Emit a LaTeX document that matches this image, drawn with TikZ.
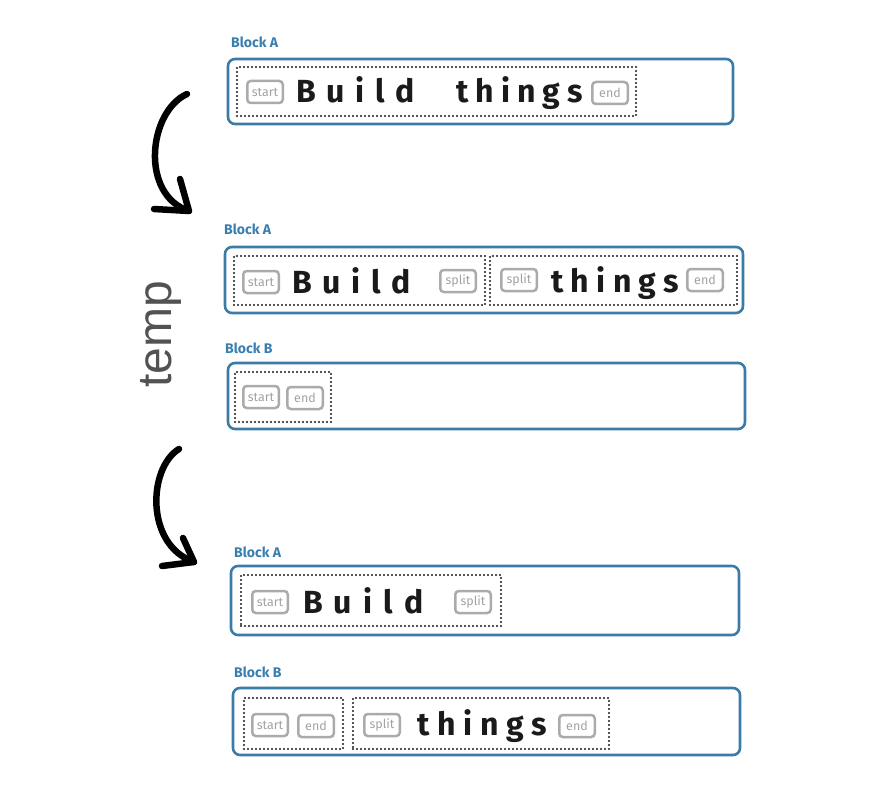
\documentclass[tikz,border=0pt]{standalone}
\usepackage{fontspec}
\setmainfont{Fira Sans}
\newfontfamily\tempfont{Liberation Sans}
\usetikzlibrary{fit}
\definecolor{blockblue}{HTML}{3C7BA6}
\definecolor{labelblue}{HTML}{3A7EAF}
\definecolor{taggray}{HTML}{ABABAB}
\definecolor{tagtext}{HTML}{A2A2A2}
\definecolor{inkblack}{HTML}{1A1A1A}
\newcommand{\spreadword}[2]{\makebox[#1][s]{#2}}
\tikzset{
  outerbox/.style={draw=blockblue, line width=2.6pt, rounded corners=7pt, inner sep=0pt},
  dotbox/.style={draw=inkblack, line width=2.2pt, line cap=round, dash pattern=on 0pt off 4pt, inner sep=0pt},
  tagbox/.style={draw=taggray, line width=2.5pt, rounded corners=3.5pt, minimum width=35.5pt, minimum height=22pt, inner sep=0pt, text=tagtext, font=\fontsize{12.5}{12.5}\selectfont},
  blocklabel/.style={anchor=base west, inner sep=0pt, text=labelblue, font=\fontsize{14}{14}\selectfont\bfseries},
  bigword/.style={anchor=base west, inner sep=0pt, text=inkblack, font=\fontsize{32}{32}\selectfont\bfseries},
  curvearrow/.style={draw=black, line width=6.5pt, line cap=round, line join=round},
}
\begin{document}
\begin{tikzpicture}[x=1pt,y=-1pt]
\useasboundingbox (0,0) rectangle (880,786);

% ---------- Stage 1 ----------
\node[blocklabel] (l1) at (231,48) {Block A};
\node[outerbox, fit={(228,59) (733,124)}] (o1) {};
\node[dotbox, fit={(237,67) (636,116)}] (d1) {};
\node[tagbox] (s1) at (265,92) {start};
\node[bigword] (w1a) at (296,103) {\spreadword{119pt}{B\hfil u\hfil i\hfil l\hfil d}};
\node[bigword] (w1b) at (456,103) {\spreadword{127pt}{t\hfil h\hfil i\hfil n\hfil g\hfil s}};
\node[tagbox] (e1) at (610,93) {end};

% ---------- Stage 2 ----------
\node[blocklabel] (l2a) at (224,235) {Block A};
\node[outerbox, fit={(225,247) (743,313)}] (o2a) {};
\node[dotbox, fit={(234,256) (485,305)}] (d2a) {};
\node[dotbox, fit={(490,256) (737,305)}] (d2b) {};
\node[tagbox] (s2) at (261,282) {start};
\node[bigword] (w2a) at (292,293) {\spreadword{119pt}{B\hfil u\hfil i\hfil l\hfil d}};
\node[tagbox] (p2a) at (458,281) {split};
\node[tagbox] (p2b) at (519,280) {split};
\node[bigword] (w2b) at (551,292) {\spreadword{128pt}{t\hfil h\hfil i\hfil n\hfil g\hfil s}};
\node[tagbox] (e2) at (705,280) {end};

\node[blocklabel] (l2b) at (225,353) {Block B};
\node[outerbox, fit={(228,363) (745,429)}] (o2b) {};
\node[dotbox, fit={(235,372) (331,422)}] (d2c) {};
\node[tagbox] (s2b) at (261,397) {start};
\node[tagbox] (e2b) at (305,398) {end};

% ---------- Stage 3 ----------
\node[blocklabel] (l3a) at (234,557) {Block A};
\node[outerbox, fit={(231,566) (739,635)}] (o3a) {};
\node[dotbox, fit={(241,575) (501,626)}] (d3a) {};
\node[tagbox] (s3) at (270,602) {start};
\node[bigword] (w3a) at (303,613) {\spreadword{120pt}{B\hfil u\hfil i\hfil l\hfil d}};
\node[tagbox] (p3) at (473,602) {split};

\node[blocklabel] (l3b) at (234,677) {Block B};
\node[outerbox, fit={(233,688) (740,755)}] (o3b) {};
\node[dotbox, fit={(244,698) (343,749)}] (d3b) {};
\node[dotbox, fit={(353,698) (609,749)}] (d3c) {};
\node[tagbox] (s3b) at (270,725) {start};
\node[tagbox] (e3b) at (316,726) {end};
\node[tagbox] (p3b) at (382,725) {split};
\node[bigword] (w3b) at (417,735) {\spreadword{130pt}{t\hfil h\hfil i\hfil n\hfil g\hfil s}};
\node[tagbox] (e3c) at (577,726) {end};

% ---------- temp ----------
\node[rotate=90, inner sep=0pt, text=black!68, font=\tempfont\fontsize{48}{48}\selectfont] (tmp) at (161,334) {temp};

% ---------- arrows ----------
\coordinate (a1s) at (187,94);
\coordinate (a1e) at (189,211);
\coordinate (a1h1) at (180,179);
\coordinate (a1h2) at (154,209);
\draw[curvearrow] (a1s) .. controls (148,112) and (140,195) .. (a1e);
\draw[curvearrow] (a1h1) -- (a1e) -- (a1h2);

\coordinate (a2s) at (179,449);
\coordinate (a2e) at (194,562);
\coordinate (a2h1) at (183,538);
\coordinate (a2h2) at (162,566);
\draw[curvearrow] (a2s) .. controls (148,468) and (145,545) .. (a2e);
\draw[curvearrow] (a2h1) -- (a2e) -- (a2h2);
\end{tikzpicture}
\end{document}
